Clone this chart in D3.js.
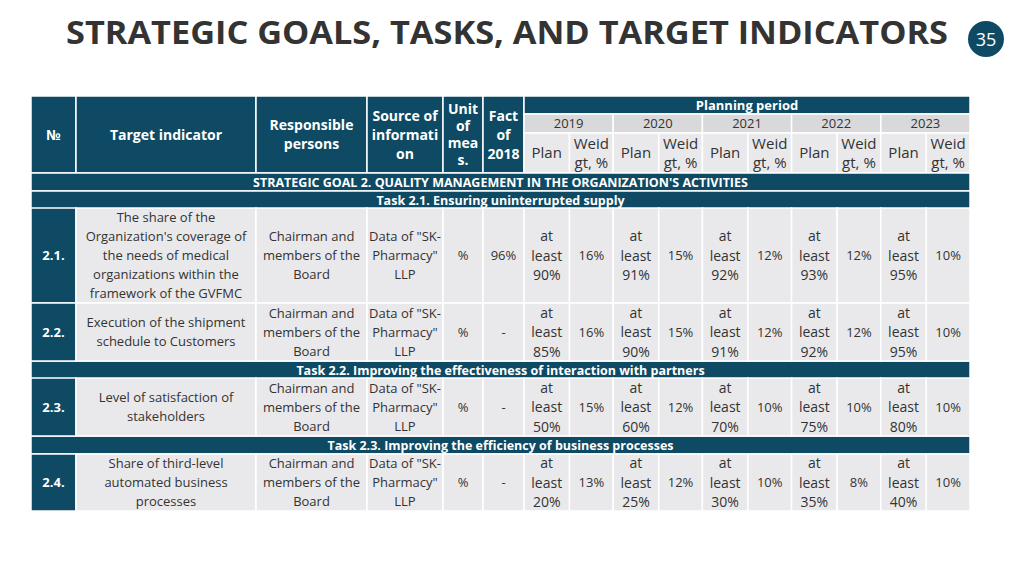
<!DOCTYPE html><html><head><meta charset="utf-8"><script src="https://cdn.jsdelivr.net/npm/d3@7"></script>
<style>body{margin:0;background:#fff}svg{font-family:"Open Sans",sans-serif}</style></head><body><svg width="1024" height="576"></svg>
<script>
const years=["2019","2020","2021","2022","2023"];
const rows=[
 {no:"2.1.",ind:["The share of the","Organization's coverage of","the needs of medical","organizations within the","framework of the GVFMC"],unit:"%",fact:"96%",plans:["90%","91%","92%","93%","95%"],weights:["16%","15%","12%","12%","10%"]},
 {no:"2.2.",ind:["Execution of the shipment","schedule to Customers"],unit:"%",fact:"-",plans:["85%","90%","91%","92%","95%"],weights:["16%","15%","12%","12%","10%"]},
 {no:"2.3.",ind:["Level of satisfaction of","stakeholders"],unit:"%",fact:"-",plans:["50%","60%","70%","75%","80%"],weights:["15%","12%","10%","10%","10%"]},
 {no:"2.4.",ind:["Share of third-level","automated business","processes"],unit:"%",fact:"-",plans:["20%","25%","30%","35%","40%"],weights:["13%","12%","10%","8%","10%"]}];
const bands=[{t:"STRATEGIC GOAL 2. QUALITY MANAGEMENT IN THE ORGANIZATION'S ACTIVITIES",y:173},{t:"Task 2.1. Ensuring uninterrupted supply",y:191},{t:"Task 2.2. Improving the effectiveness of interaction with partners",y:361},{t:"Task 2.3. Improving the efficiency of business processes",y:436}];
const rowY=[[208,303],[303,361],[378,436],[454,511]];
const resp=["Chairman and","members of the","Board"], src=["Data of \"SK-","Pharmacy\"","LLP"];
const DARK="#0e4a63",LIGHT="#e9e9eb",MID="#d9d9db";
const cols=[31,76,256,367,443,483,524];
const yx=d3.scaleLinear().domain([0,5]).range([524,970]);
const svg=d3.select("svg");
svg.append("text").attr("x",66).attr("y",44).attr("textLength",882).attr("lengthAdjust","spacingAndGlyphs").attr("font-size",33).attr("font-weight",700).attr("fill","#333").text("STRATEGIC GOALS, TASKS, AND TARGET INDICATORS");
svg.append("circle").attr("cx",986).attr("cy",39).attr("r",18).attr("fill",DARK);
svg.append("text").attr("x",986).attr("y",46).attr("text-anchor","middle").attr("font-size",18).attr("fill","#fff").text("35");
const g=svg.append("g");
function cell(x0,x1,y0,y1,fill,lines,color,bold,fs,lh){
 g.append("rect").attr("x",x0).attr("y",y0).attr("width",x1-x0).attr("height",y1-y0).attr("fill",fill).attr("stroke","#fff").attr("stroke-width",1.5);
 lines=[].concat(lines);const h=lh||19;const cy=(y0+y1)/2-(lines.length-1)*h/2;
 lines.forEach((l,i)=>g.append("text").attr("x",(x0+x1)/2).attr("y",cy+i*h).attr("dy","0.36em").attr("text-anchor","middle").attr("font-size",fs||13).attr("font-weight",bold?700:400).attr("fill",color).text(l));
}
const hdr=[["№"],["Target indicator"],["Responsible","persons"],["Source of","informati","on"],["Unit","of","mea","s."],["Fact","of","2018"]];
hdr.forEach((h,i)=>cell(cols[i],cols[i+1],96,173,DARK,h,"#fff",true,14,h.length>3?17:19));
cell(524,970,96,114,DARK,"Planning period","#fff",true,13);
years.forEach((y,i)=>{const x0=yx(i),x1=yx(i+1),xm=x0+(x1-x0)*0.51;
 cell(x0,x1,114,133,MID,y,"#333",false,13);
 cell(x0,xm,133,173,LIGHT,"Plan","#333",false,15);
 cell(xm,x1,133,173,LIGHT,["Weid","gt, %"],"#333",false,15,19);});
bands.forEach(b=>cell(31,970,b.y,b.y+18,DARK,b.t,"#fff",true,12.5));
rows.forEach((r,k)=>{const [y0,y1]=rowY[k];
 cell(31,76,y0,y1,DARK,r.no,"#fff",true,13);
 cell(76,256,y0,y1,LIGHT,r.ind,"#333",false,13);
 cell(256,367,y0,y1,LIGHT,resp,"#333",false,13);
 cell(367,443,y0,y1,LIGHT,src,"#333",false,13);
 cell(443,483,y0,y1,LIGHT,r.unit,"#333",false,13);
 cell(483,524,y0,y1,LIGHT,r.fact,"#333",false,13);
 years.forEach((y,i)=>{const x0=yx(i),x1=yx(i+1),xm=x0+(x1-x0)*0.51;
  cell(x0,xm,y0,y1,LIGHT,["at","least",r.plans[i]],"#333",false,14,19.5);
  cell(xm,x1,y0,y1,LIGHT,r.weights[i],"#333",false,13);});
});
</script></body></html>
